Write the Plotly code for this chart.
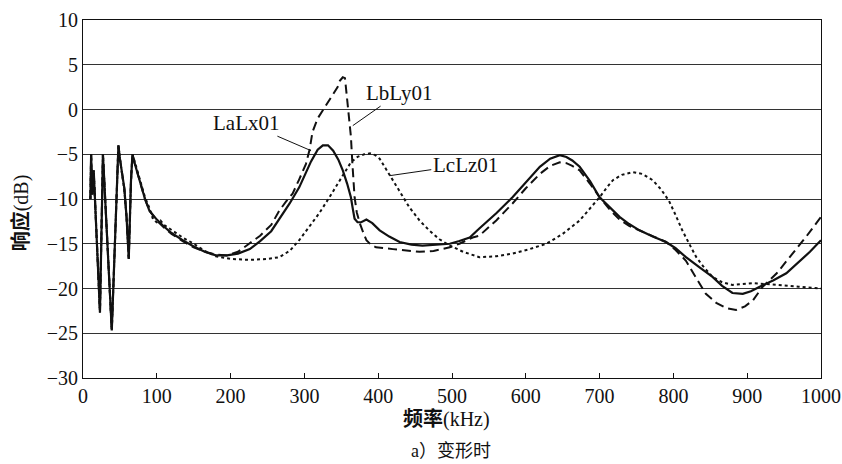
import plotly.graph_objects as go

# LaLx01 (solid)
freq_a = [10, 11, 12.5, 14.5, 23, 27, 39, 47, 48, 50, 53, 56, 59, 62, 65, 67, 70, 75, 80, 84, 90, 100, 110, 120, 135, 150, 165, 180, 195, 210, 226, 240, 255, 266, 280, 293, 300, 309, 318, 325, 332, 339, 346, 352, 358, 363, 366, 368, 372, 377, 384, 392, 402, 415, 429, 445, 460, 480, 497, 510, 524, 537, 560, 582, 600, 619, 633, 646, 655, 663, 673, 687, 700, 714, 727, 740, 754, 772, 790, 803, 817, 835, 853, 866, 880, 894, 905, 917, 935, 953, 970, 985, 1000]
resp_a = [-10, -5, -9.5, -6.8, -22.7, -5, -24.7, -4.3, -4, -5.5, -7, -8.8, -12, -16.7, -8, -5, -6, -7.5, -9, -10, -11.3, -12.3, -13.1, -13.8, -14.6, -15.3, -15.9, -16.3, -16.3, -16.1, -15.6, -14.7, -13.6, -12.3, -10.5, -8.7, -7.5, -5.8, -4.5, -4.0, -4.0, -4.6, -5.6, -6.8, -8.3, -9.8, -11.3, -12.2, -12.6, -12.6, -12.3, -12.7, -13.5, -14.2, -14.8, -15.1, -15.2, -15.1, -15.0, -14.7, -14.3, -13.3, -11.6, -9.8, -8.1, -6.4, -5.5, -5.1, -5.3, -5.7, -6.4, -8.0, -9.8, -11.0, -12.0, -12.8, -13.5, -14.2, -14.8, -15.5, -16.5, -17.6, -18.7, -19.7, -20.5, -20.6, -20.3, -19.8, -19.1, -18.3, -17.0, -15.9, -14.6]

# LbLy01 (dashed)
freq_b = [10, 11, 12.5, 14.5, 23, 27, 39, 47, 48, 50, 53, 56, 59, 62, 65, 67, 70, 75, 80, 84, 90, 100, 110, 120, 135, 150, 165, 180, 195, 210, 225, 240, 255, 266, 275, 284, 293, 302, 307, 311, 318, 325, 333, 339, 345, 348, 352, 355, 358, 361, 363, 365, 368, 371, 375, 380, 384, 390, 397, 420, 440, 456, 475, 497, 510, 528, 537, 560, 582, 600, 619, 633, 646, 655, 663, 673, 687, 700, 714, 727, 740, 754, 772, 790, 803, 817, 830, 844, 858, 872, 885, 897, 908, 921, 940, 962, 980, 1000]
resp_b = [-10, -5, -9.5, -6.8, -22.7, -5, -24.7, -4.3, -4, -5.5, -7, -8.8, -12, -16.7, -8, -5, -6, -7.5, -9, -10, -11.3, -12.4, -13.2, -13.9, -14.7, -15.4, -15.9, -16.2, -16.3, -15.9, -15.0, -14.1, -12.9, -11.3, -10.3, -9.4, -7.8, -6.1, -4.5, -2.5, -1.0, -0.1, 1.0, 1.8, 2.5, 3.2, 3.6, 3.5, 1.0, -1.5, -3, -6, -9.8, -11.5, -12.7, -13.8, -14.6, -15.1, -15.4, -15.6, -15.8, -15.9, -15.8, -15.4, -15.0, -14.3, -14.1, -12.4, -10.5, -8.8, -7.2, -6.3, -5.9, -6.0, -6.3, -6.8, -8.3, -9.8, -11.2, -12.3, -13.0, -13.5, -14.2, -14.8, -15.7, -16.9, -18.7, -20.6, -21.6, -22.2, -22.4, -22.0, -21.3, -19.8, -18.3, -16.1, -14.2, -12.0]

# LcLz01 (dotted)
freq_c = [10, 11, 12.5, 14.5, 23, 27, 39, 47, 48, 50, 53, 56, 59, 62, 65, 67, 70, 75, 80, 84, 90, 95, 100, 105, 110, 120, 135, 150, 165, 180, 200, 226, 250, 266, 280, 293, 307, 320, 334, 348, 356, 363, 372, 381, 389, 396, 402, 415, 428, 442, 456, 469, 483, 497, 515, 537, 560, 582, 605, 628, 650, 673, 687, 700, 710, 718, 730, 745, 758, 772, 783, 794, 803, 812, 822, 831, 842, 853, 866, 880, 894, 908, 925, 944, 970, 1000]
resp_c = [-10, -5, -9.5, -6.8, -22.7, -5, -24.7, -4.3, -4, -5.5, -7, -9, -12, -16.7, -8, -5, -5.8, -7.3, -8.8, -9.8, -11, -12.3, -12.6, -12.4, -12.9, -13.5, -14.3, -15.0, -15.8, -16.4, -16.7, -16.8, -16.7, -16.5, -15.8, -14.6, -13.0, -11.6, -9.8, -7.9, -6.8, -5.9, -5.3, -5.0, -4.9, -5.1, -5.5, -7.2, -9.0, -10.9, -12.4, -13.5, -14.5, -15.2, -15.9, -16.5, -16.4, -16.1, -15.6, -15.0, -13.9, -12.4, -11.1, -9.8, -8.7, -7.9, -7.3, -7.0, -7.2, -7.9, -8.9, -10.2, -11.8, -13.5, -15.1, -16.5, -17.7, -18.7, -19.3, -19.6, -19.5, -19.4, -19.5, -19.6, -19.8, -20.0]

x_ticks = [0, 100, 200, 300, 400, 500, 600, 700, 800, 900, 1000]
y_ticks = [-30, -25, -20, -15, -10, -5, 0, 5, 10]
y_tick_text = ["\u221230", "\u221225", "\u221220", "\u221215", "\u221210", "\u22125", "0", "5", "10"]

SERIF = "Liberation Serif, Times New Roman, serif"
CJK = "Liberation Serif, Noto Sans CJK SC, serif"
INK = "#111111"

fig = go.Figure()
fig.add_trace(go.Scatter(x=freq_b, y=resp_b, mode="lines", name="LbLy01",
                         line=dict(color=INK, width=2, dash="9px,5px")))
fig.add_trace(go.Scatter(x=freq_c, y=resp_c, mode="lines", name="LcLz01",
                         line=dict(color=INK, width=2, dash="3px,3px")))
fig.add_trace(go.Scatter(x=freq_a, y=resp_a, mode="lines", name="LaLx01",
                         line=dict(color=INK, width=2.2)))

fig.update_layout(
    width=842, height=464, autosize=False,
    margin=dict(l=83, r=21, t=20, b=86),
    paper_bgcolor="white", plot_bgcolor="white",
    showlegend=False, hovermode=False,
    font=dict(family=SERIF, size=20, color=INK),
)
fig.update_xaxes(range=[0, 1000], tickvals=x_ticks, showgrid=False,
                 showline=True, linecolor=INK, linewidth=1, mirror=True,
                 ticks="inside", ticklen=5, tickcolor=INK, automargin=False,
                 tickfont=dict(family=SERIF, size=20), zeroline=False)
fig.update_yaxes(range=[-30, 10], tickvals=y_ticks, ticktext=y_tick_text,
                 showgrid=True, gridcolor="#333333", gridwidth=1,
                 showline=True, linecolor=INK, linewidth=1, mirror=True,
                 ticks="", automargin=False,
                 tickfont=dict(family=SERIF, size=20), zeroline=False)

annotations = [
    dict(x=309, y=-4.6, xref="x", yref="y", text="LaLx01", showarrow=True,
         arrowhead=0, arrowwidth=1, arrowcolor=INK, ax=-65, ay=-28,
         font=dict(family=SERIF, size=21)),
    dict(x=365.6, y=-1.8, xref="x", yref="y", text="LbLy01", showarrow=True,
         arrowhead=0, arrowwidth=1, arrowcolor=INK, ax=47, ay=-33,
         font=dict(family=SERIF, size=21)),
    dict(x=415, y=-7.4, xref="x", yref="y", text="LcLz01", showarrow=True,
         arrowhead=0, arrowwidth=1, arrowcolor=INK, ax=76, ay=-11,
         font=dict(family=SERIF, size=21)),
    dict(x=0.493, y=-0.116, xref="paper", yref="paper", text="<b>频率</b>(kHz)",
         showarrow=False, xanchor="center", yanchor="middle",
         font=dict(family=CJK, size=20)),
    dict(x=0.499, y=-0.203, xref="paper", yref="paper", text="a）变形时",
         showarrow=False, xanchor="center", yanchor="middle",
         font=dict(family=CJK, size=18)),
    dict(x=-0.084, y=0.46, xref="paper", yref="paper", text="<b>响应</b>(dB)",
         showarrow=False, xanchor="center", yanchor="middle", textangle=-90,
         font=dict(family=CJK, size=20)),
]
fig.update_layout(annotations=annotations)

fig.write_html(
    "out.html",
    config={"displayModeBar": False, "staticPlot": True},
    post_script="document.body.style.margin='0';document.body.style.overflow='hidden';",
)
